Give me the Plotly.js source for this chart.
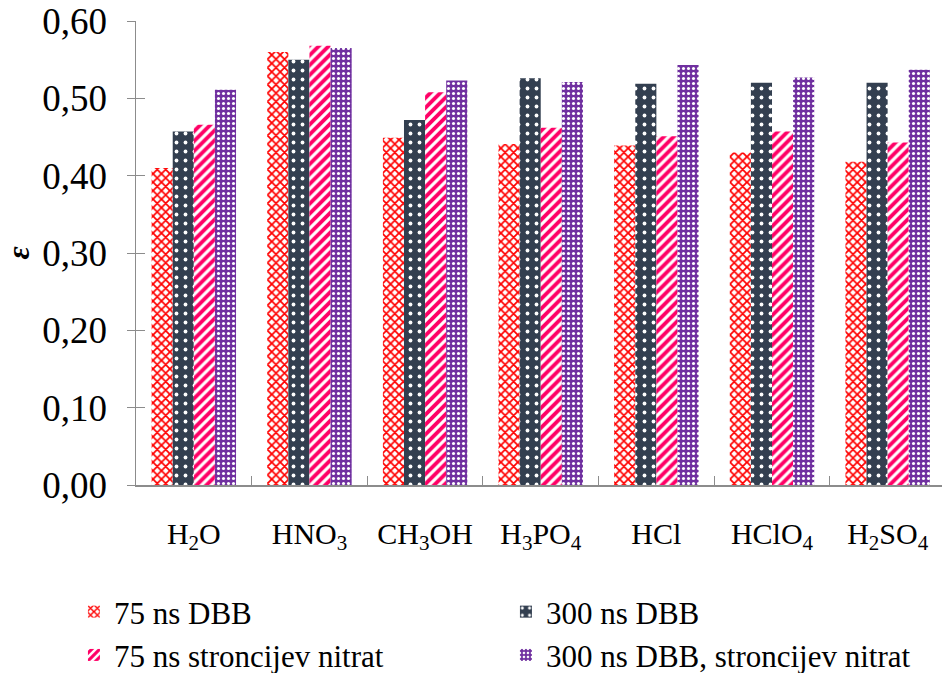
<!DOCTYPE html>
<html>
<head>
<meta charset="utf-8">
<script src="https://cdn.plot.ly/plotly-3.0.1.min.js"></script>
<style>html,body{margin:0;padding:0;background:#fff;}#chart{width:942px;height:673px;}</style>
</head>
<body>
<div id="chart"></div>
<script>
const categories = ["H<sub>2</sub>O", "HNO<sub>3</sub>", "CH<sub>3</sub>OH", "H<sub>3</sub>PO<sub>4</sub>", "HCl", "HClO<sub>4</sub>", "H<sub>2</sub>SO<sub>4</sub>"];
const seriesNames = ["75 ns DBB", "300 ns DBB", "75 ns stroncijev nitrat", "300 ns DBB, stroncijev nitrat"];
const s75DBB = [0.410, 0.560, 0.449, 0.441, 0.439, 0.430, 0.418];
const s300DBB = [0.457, 0.550, 0.472, 0.526, 0.519, 0.520, 0.520];
const s75Sr = [0.466, 0.568, 0.508, 0.462, 0.451, 0.457, 0.443];
const s300Sr = [0.511, 0.565, 0.523, 0.521, 0.543, 0.527, 0.537];
const yTickVals = [0, 0.1, 0.2, 0.3, 0.4, 0.5, 0.6];
const yTickText = ["0,00", "0,10", "0,20", "0,30", "0,40", "0,50", "0,60"];

const FONT = "'Liberation Serif', 'Times New Roman', serif";
const AXIS = "#8c8c8c";

const styles = [
  {bg: "#ffffff", fg: "#ff0000", shape: "x", size: 6, solidity: 0.5},
  {bg: "#333f50", fg: "#ffffff", shape: ".", size: 9, solidity: 0.14},
  {bg: "#ffffff", fg: "#ff0066", shape: "/", size: 7, solidity: 0.55},
  {bg: "#7030a0", fg: "#ffffff", shape: ".", size: 5, solidity: 0.3}
];
const values = [s75DBB, s300DBB, s75Sr, s300Sr];

const traces = values.map((v, i) => ({
  type: "bar",
  name: seriesNames[i],
  x: categories,
  y: v,
  marker: {
    color: styles[i].bg,
    line: {width: 0},
    pattern: {shape: styles[i].shape, fgcolor: styles[i].fg, bgcolor: styles[i].bg, size: styles[i].size, solidity: styles[i].solidity, fillmode: "overlay", fgopacity: 1}
  },
  hoverinfo: "none"
}));
// invisible helper trace on an overlaid axis to draw the inner half of the y ticks
traces.push({type: "scatter", x: [categories[0]], y: [0], yaxis: "y2", mode: "none", showlegend: false, hoverinfo: "none"});

const layout = {
  width: 942, height: 673,
  margin: {l: 136, r: 0, t: 21, b: 188, autoexpand: false},
  paper_bgcolor: "#ffffff", plot_bgcolor: "#ffffff",
  font: {family: FONT, color: "#000000"},
  barmode: "group", bargap: 0.27, bargroupgap: 0,
  showlegend: true,
  xaxis: {
    type: "category",
    range: [-0.5, 6.47],
    automargin: false,
    showline: true, linecolor: AXIS, linewidth: 1.5,
    ticks: "inside", tickson: "boundaries", ticklen: 9, tickcolor: AXIS,
    tickfont: {size: 30, family: FONT},
    ticklabelstandoff: 21,
    showgrid: false, zeroline: false
  },
  yaxis: {
    range: [0, 0.6],
    automargin: false,
    tickvals: yTickVals, ticktext: yTickText,
    showline: true, linecolor: AXIS, linewidth: 1.5,
    ticks: "outside", ticklen: 8, tickcolor: AXIS,
    tickfont: {size: 37, family: FONT},
    ticklabelstandoff: 12,
    showgrid: false, zeroline: false,
    title: {text: "<b><i>ε</i></b>", font: {size: 32, family: FONT}, standoff: 18}
  },
  yaxis2: {
    overlaying: "y", side: "left",
    range: [0, 0.6],
    automargin: false,
    tickvals: yTickVals.slice(1),
    showticklabels: false,
    ticks: "inside", ticklen: 9, tickcolor: AXIS,
    showline: false, showgrid: false, zeroline: false
  },
  legend: {
    orientation: "h",
    x: -0.077, xanchor: "left",
    y: -0.2155, yanchor: "top",
    entrywidth: 387, entrywidthmode: "pixels",
    font: {size: 31, family: FONT},
    itemwidth: 30,
    bgcolor: "rgba(0,0,0,0)"
  }
};

Plotly.newPlot("chart", traces, layout, {displayModeBar: false, staticPlot: true});
</script>
</body>
</html>
